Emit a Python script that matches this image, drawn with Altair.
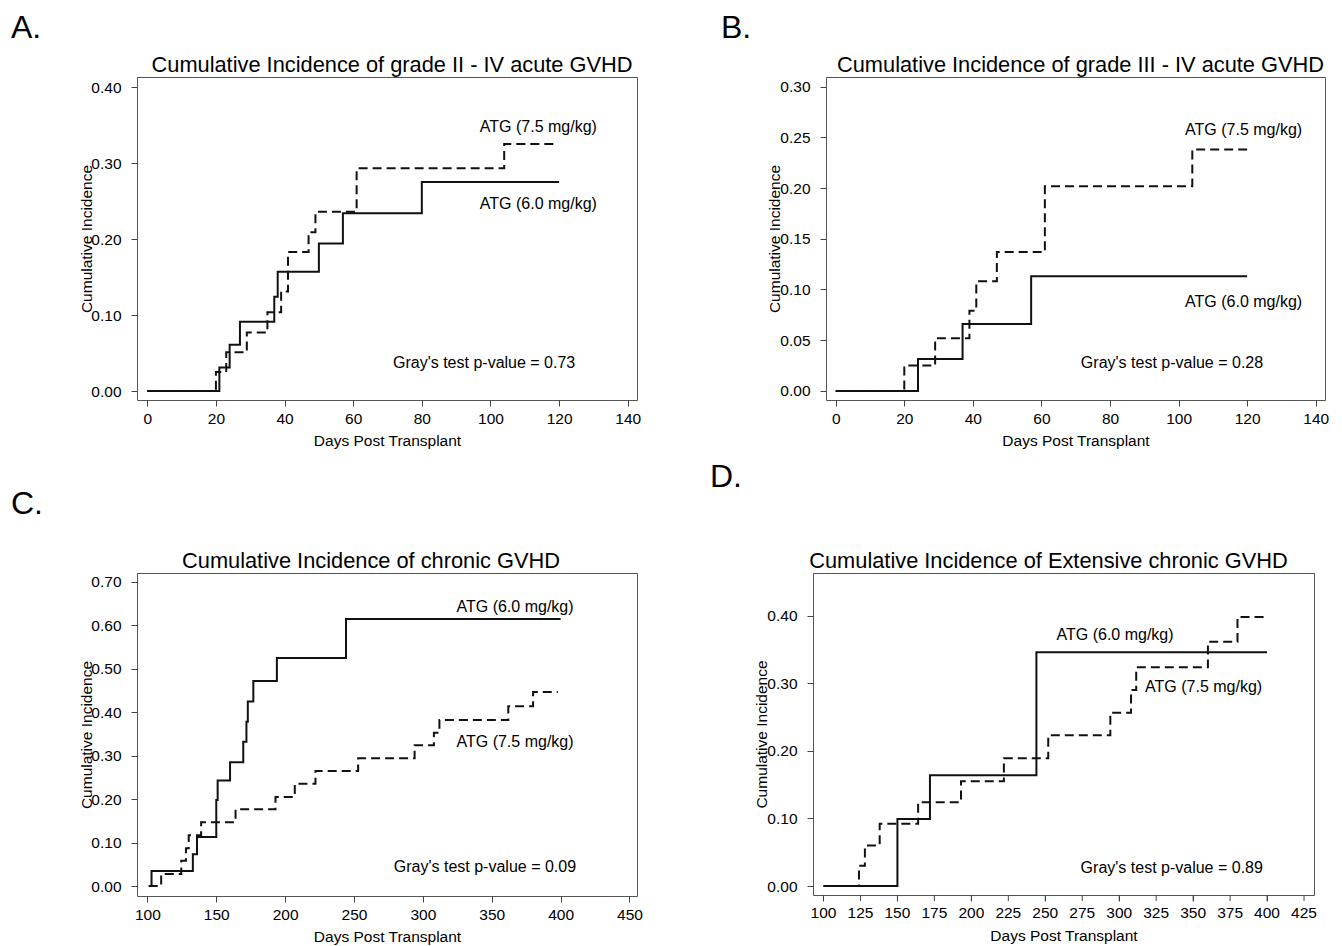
import altair as alt
import pandas as pd

FONT = "Liberation Sans"
G60 = "ATG (6.0 mg/kg)"
G75 = "ATG (7.5 mg/kg)"

# ---------------- Panel A: grade II - IV acute GVHD ----------------
A_days_60 = [0, 21, 24, 27, 37, 38, 50, 57, 80, 120]
A_ci_60 = [0, 0.031, 0.061, 0.091, 0.124, 0.157, 0.194, 0.234, 0.275, 0.275]
A_days_75 = [0, 20, 23, 29, 35, 39, 41, 47, 49, 61, 104, 119]
A_ci_75 = [0, 0.025, 0.051, 0.077, 0.1035, 0.131, 0.183, 0.209, 0.236, 0.293, 0.325, 0.325]
A_xticks = [0, 20, 40, 60, 80, 100, 120, 140]
A_yticks = [0.0, 0.1, 0.2, 0.3, 0.4]
A_labels = [G75, G60, "Gray's test p-value = 0.73"]
A_label_x = [96.9, 96.9, 71.6]
A_label_y = [0.347, 0.246, 0.0364]

# ---------------- Panel B: grade III - IV acute GVHD ----------------
B_days_60 = [0, 24, 37, 57, 120]
B_ci_60 = [0, 0.0315, 0.066, 0.113, 0.113]
B_days_75 = [0, 20, 29, 39, 41, 47, 61, 104, 120]
B_ci_75 = [0, 0.025, 0.052, 0.079, 0.108, 0.137, 0.2017, 0.238, 0.238]
B_xticks = [0, 20, 40, 60, 80, 100, 120, 140]
B_yticks = [0.0, 0.05, 0.10, 0.15, 0.20, 0.25, 0.30]
B_labels = [G75, G60, "Gray's test p-value = 0.28"]
B_label_x = [101.9, 101.9, 71.5]
B_label_y = [0.2572, 0.0874, 0.0273]

# ---------------- Panel C: chronic GVHD ----------------
C_days_60 = [101, 103, 133, 136, 150, 151, 160, 169.6, 171.9, 172.9, 176.9, 194, 244.2, 400]
C_ci_60 = [0, 0.0345, 0.073, 0.113, 0.198, 0.243, 0.285, 0.332, 0.378, 0.425, 0.472, 0.525, 0.615, 0.615]
C_days_75 = [101, 110, 124.6, 128, 130, 139, 164, 193, 207, 222, 253, 294, 308, 312, 362, 380, 398]
C_ci_75 = [0, 0.0276, 0.058, 0.087, 0.117, 0.147, 0.1765, 0.205, 0.2356, 0.265, 0.294, 0.324,
           0.353, 0.382, 0.4137, 0.4467, 0.4467]
C_xticks = [100, 150, 200, 250, 300, 350, 400, 450]
C_yticks = [0.0, 0.1, 0.2, 0.3, 0.4, 0.5, 0.6, 0.7]
C_labels = [G60, G75, "Gray's test p-value = 0.09"]
C_label_x = [324.4, 324.4, 278.9]
C_label_y = [0.643, 0.332, 0.0445]

# ---------------- Panel D: extensive chronic GVHD ----------------
D_days_60 = [100, 150, 172, 244, 400]
D_ci_60 = [0, 0.099, 0.164, 0.346, 0.346]
D_days_75 = [100, 124, 128, 138, 164, 193, 222, 252, 294, 308, 311.5, 360, 380, 400]
D_ci_75 = [0, 0.030, 0.060, 0.092, 0.124, 0.155, 0.189, 0.223, 0.2565, 0.29, 0.3236, 0.3615, 0.398, 0.398]
D_xticks = [100, 125, 150, 175, 200, 225, 250, 275, 300, 325, 350, 375, 400, 425]
D_yticks = [0.0, 0.1, 0.2, 0.3, 0.4]
D_labels = [G60, G75, "Gray's test p-value = 0.89"]
D_label_x = [257.6, 317.5, 273.9]
D_label_y = [0.371, 0.295, 0.0261]


def panel(key, days60, ci60, days75, ci75, xdom, ydom, xticks, yticks, labels, lx, ly,
          title, title_dx, letter_xy, width, height, ytitle_x, own_xlabels=False):
    xf, yf = "day" + key, "ci" + key
    df = pd.concat([
        pd.DataFrame({xf: days60, yf: ci60, "grp": G60}),
        pd.DataFrame({xf: days75, yf: ci75, "grp": G75}),
    ])
    tdf = pd.DataFrame({xf: lx, yf: ly, "label": labels})
    xscale = alt.Scale(domain=xdom, nice=False, zero=False)
    yscale = alt.Scale(domain=ydom, nice=False, zero=False)
    x = alt.X(xf + ":Q", scale=xscale,
              axis=alt.Axis(values=xticks, title="Days Post Transplant", format="d",
                            domain=False, grid=False, tickSize=6, tickColor="#444",
                            labels=not own_xlabels,
                            labelOverlap=False, labelFlush=False,
                            labelFontSize=15.5, labelFont=FONT, labelColor="black",
                            labelPadding=5, titleFont=FONT, titleFontSize=15.5,
                            titleFontWeight="normal", titleColor="black",
                            titleY=45, titleBaseline="alphabetic"))
    y = alt.Y(yf + ":Q", scale=yscale,
              axis=alt.Axis(values=yticks, title="Cumulative Incidence", format=".2f",
                            domain=False, grid=False, tickSize=6, tickColor="#444",
                            labelOverlap=False, labelFlush=False,
                            labelFontSize=15.5, labelFont=FONT, labelColor="black",
                            labelPadding=10, titleFont=FONT, titleFontSize=15.5,
                            titleFontWeight="normal", titleColor="black",
                            titleX=ytitle_x, titleY=height / 2, titleAngle=270,
                            titleAlign="center", titleBaseline="alphabetic"))
    lines = alt.Chart(df).mark_line(interpolate="step-after", color="#111",
                                    strokeWidth=2).encode(
        x=x, y=y,
        strokeDash=alt.StrokeDash("grp:N", scale=alt.Scale(domain=[G60, G75],
                                                          range=[[1, 0], [9, 5]]),
                                  legend=None),
        detail="grp:N",
    )
    texts = alt.Chart(tdf).mark_text(align="left", baseline="middle", fontSize=16,
                                     font=FONT, color="black").encode(
        x=alt.X(xf + ":Q", scale=xscale),
        y=alt.Y(yf + ":Q", scale=yscale),
        text="label:N")
    let = alt.Chart(pd.DataFrame({"t": [key + "."]})).mark_text(
        align="left", baseline="alphabetic", fontSize=32, font=FONT, color="black"
    ).encode(x=alt.value(letter_xy[0]), y=alt.value(letter_xy[1]), text="t:N")
    ttl = alt.Chart(pd.DataFrame({"t": [title]})).mark_text(
        align="center", baseline="alphabetic", fontSize=21.8, font=FONT, color="black"
    ).encode(x=alt.value(width / 2 + title_dx), y=alt.value(-5), text="t:N")
    layers = [lines, texts, let, ttl]
    if own_xlabels:
        tick_df = pd.DataFrame({xf: xticks, "lab": [str(v) for v in xticks]})
        layers.append(alt.Chart(tick_df).mark_rule(color="#444", strokeWidth=1).encode(
            x=alt.X(xf + ":Q", scale=xscale),
            y=alt.value(height), y2=alt.value(height + 6)))
        layers.append(alt.Chart(tick_df).mark_text(
            align="center", baseline="top", fontSize=15.5, font=FONT, color="black"
        ).encode(x=alt.X(xf + ":Q", scale=xscale), y=alt.value(height + 11),
                 text="lab:N"))
    return alt.layer(*layers).properties(width=width, height=height)


pA = panel("A", A_days_60, A_ci_60, A_days_75, A_ci_75, [-3.0, 142.7], [-0.0118, 0.4132],
           A_xticks, A_yticks, A_labels, A_label_x, A_label_y,
           "Cumulative Incidence of grade II - IV acute GVHD", 5, (-126, -39),
           500, 323, -46)
pB = panel("B", B_days_60, B_ci_60, B_days_75, B_ci_75, [-2.83, 142.7], [-0.0089, 0.3094],
           B_xticks, B_yticks, B_labels, B_label_x, B_label_y,
           "Cumulative Incidence of grade III - IV acute GVHD", 5, (-105, -39),
           499, 323, -47)
pC = panel("C", C_days_60, C_ci_60, C_days_75, C_ci_75, [92.45, 455.45], [-0.023, 0.7207],
           C_xticks, C_yticks, C_labels, C_label_x, C_label_y,
           "Cumulative Incidence of chronic GVHD", -16, (-126, -59),
           500, 323, -46)
pD = panel("D", D_days_60, D_ci_60, D_days_75, D_ci_75, [92.9, 431.75], [-0.0133, 0.4632],
           D_xticks, D_yticks, D_labels, D_label_x, D_label_y,
           "Cumulative Incidence of Extensive chronic GVHD", -15, (-103, -86),
           501, 322, -47, own_xlabels=True)

row1 = alt.hconcat(pA, pB, spacing=189, bounds="flush")
row2 = alt.hconcat(pC, pD, spacing=176, bounds="flush")
chart = alt.vconcat(row1, row2, spacing=11).properties(
    padding={"left": 2, "top": 3, "right": 0, "bottom": 0}
).configure(background="white").configure_view(
    stroke="#555", strokeWidth=1
).configure_axis(labelOverlap=False)

chart.save("out.html", embed_options={"renderer": "svg", "actions": False})
